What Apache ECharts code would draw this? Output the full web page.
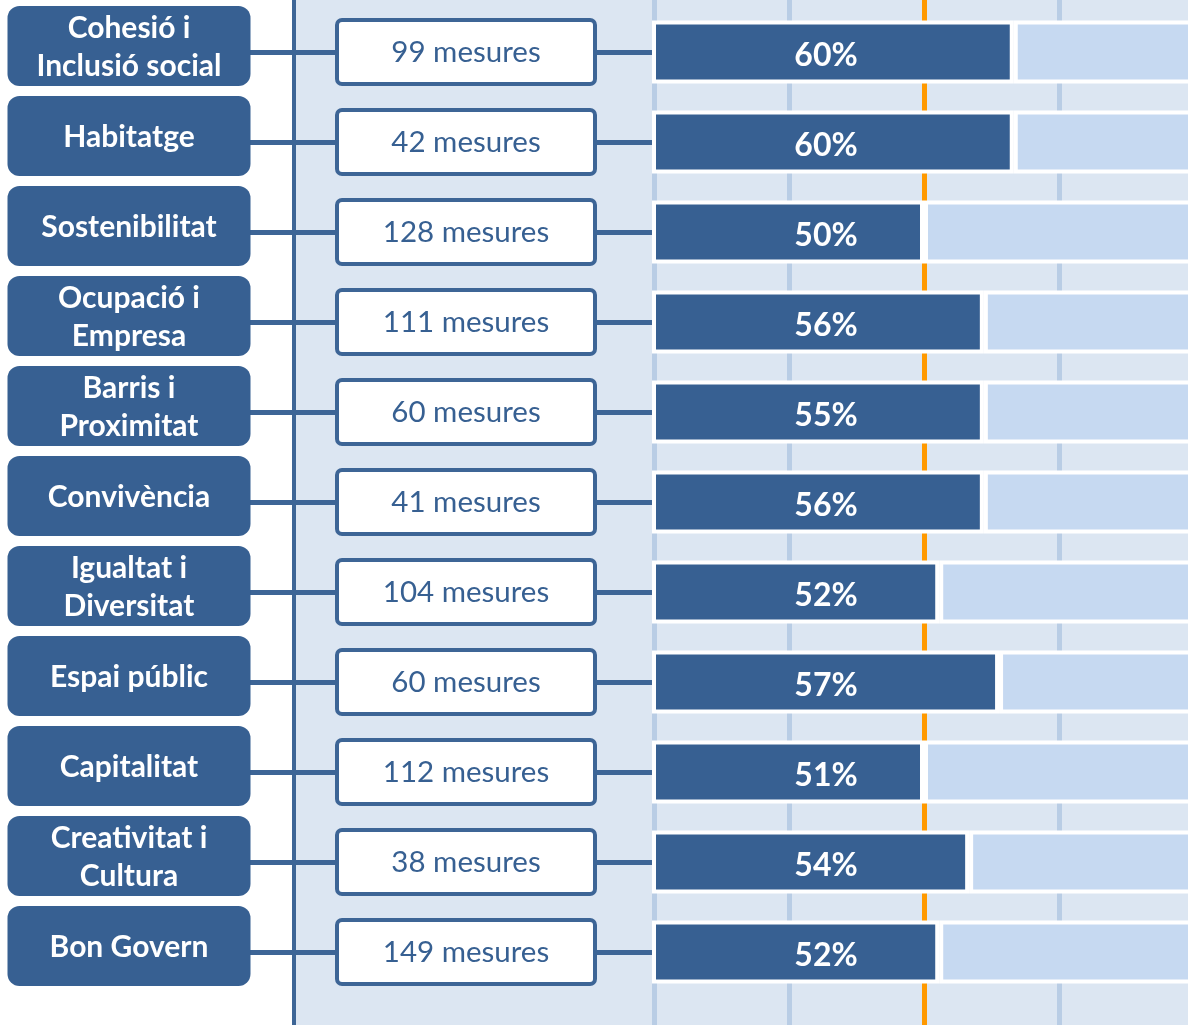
<!DOCTYPE html>
<html>
<head>
<meta charset="utf-8">
<script src="https://cdn.jsdelivr.net/npm/echarts@6/dist/echarts.min.js"></script>
<style>
html,body{margin:0;padding:0;background:#fff;}
#chart{width:1188px;height:1025px;}
</style>
</head>
<body>
<div id="chart"></div>
<script>
// ---- data ----
const categories = ['Cohesió i\nInclusió social', 'Habitatge', 'Sostenibilitat', 'Ocupació i\nEmpresa', 'Barris i\nProximitat', 'Convivència', 'Igualtat i\nDiversitat', 'Espai públic', 'Capitalitat', 'Creativitat i\nCultura', 'Bon Govern'];
const mesures = [99, 42, 128, 111, 60, 41, 104, 60, 112, 38, 149];
const pctLabels = ['60%', '60%', '50%', '56%', '55%', '56%', '52%', '57%', '51%', '54%', '52%'];
const barShare = [66.5, 66.5, 50.0, 61.0, 61.0, 61.0, 52.8, 63.8, 50.0, 58.3, 52.8];
const scaleTicks = [0, 25, 50, 75, 100];

const DARK = '#376092';
const LINE = '#3D6596';
const FONT = 'Lato';

const chart = echarts.init(document.getElementById('chart'), null, {renderer: 'canvas'});

const option = {
  backgroundColor: '#ffffff',
  animation: false,
  grid: [
    {left: 652, width: 544, top: 7, height: 990, outerBoundsMode: 'none', containLabel: false},   // bars + mesures boxes
    {left: 652, width: 544, top: 1, height: 990, outerBoundsMode: 'none', containLabel: false},   // category boxes
    {left: 294, right: 0, top: 0, bottom: 0, show: true, backgroundColor: '#DCE6F2', borderWidth: 0, z: -2, outerBoundsMode: 'none'}, // background
    {left: 654, width: 540, top: 0, bottom: 0, outerBoundsMode: 'none', containLabel: false}      // vertical guide lines
  ],
  xAxis: [
    {gridIndex: 0, type: 'value', min: scaleTicks[0], max: scaleTicks[scaleTicks.length - 1], show: false},
    {gridIndex: 1, type: 'value', min: scaleTicks[0], max: scaleTicks[scaleTicks.length - 1], show: false},
    {gridIndex: 2, type: 'value', min: 0, max: 1, show: false},
    {gridIndex: 3, type: 'value', min: scaleTicks[0], max: scaleTicks[scaleTicks.length - 1], interval: 25, z: -1,
      axisLine: {show: false}, axisTick: {show: false}, axisLabel: {show: false},
      splitLine: {show: true, lineStyle: {width: 5, color: ['#B9CDE5', '#B9CDE5', '#FF9900', '#B9CDE5', '#B9CDE5']}}}
  ],
  yAxis: [
    {gridIndex: 0, type: 'category', inverse: true, data: categories,
      axisLine: {show: false},
      axisTick: {show: true, alignWithLabel: true, length: 402, lineStyle: {color: LINE, width: 5}},
      axisLabel: {
        interval: 0, margin: 186, align: 'center', verticalAlign: 'middle',
        formatter: (v, i) => mesures[i] + ' mesures',
        color: DARK, fontFamily: FONT, fontSize: 29.5,
        backgroundColor: '#ffffff', borderColor: LINE, borderWidth: 4, borderRadius: 3,
        width: 254, lineHeight: 59, padding: [1, 0, 0, 0]
      }},
    {gridIndex: 1, type: 'category', inverse: true, data: categories,
      axisLine: {show: false}, axisTick: {show: false},
      axisLabel: {
        interval: 0, margin: 523, align: 'center', verticalAlign: 'middle',
        formatter: (v) => v.indexOf('\n') >= 0
          ? v.split('\n').map(s => '{two|' + s + '}').join('\n')
          : '{one|' + v + '}',
        backgroundColor: DARK, borderRadius: 12, width: 243, padding: [3, 0, 0, 0],
        rich: {
          one: {color: '#fff', fontFamily: FONT, fontWeight: 'bold', fontSize: 30, lineHeight: 77, align: 'center'},
          two: {color: '#fff', fontFamily: FONT, fontWeight: 'bold', fontSize: 30, lineHeight: 38.5, align: 'center'}
        }
      }},
    {gridIndex: 2, type: 'value', min: 0, max: 1, z: 1,
      axisLine: {show: true, onZero: false, lineStyle: {color: LINE, width: 4}},
      axisTick: {show: false}, axisLabel: {show: false}, splitLine: {show: false}},
    {gridIndex: 3, type: 'category', data: categories, show: false}
  ],
  series: [
    {
      name: 'done', type: 'bar', stack: 'total', xAxisIndex: 0, yAxisIndex: 0,
      data: barShare, barWidth: 63, z: 3,
      itemStyle: {color: DARK, borderColor: '#ffffff', borderWidth: 4},
      label: {
        show: true, position: [174, '50%'], align: 'center', verticalAlign: 'middle', offset: [0, 4],
        formatter: (p) => pctLabels[p.dataIndex],
        color: '#ffffff', fontFamily: FONT, fontWeight: 'bold', fontSize: 32
      },
      silent: true
    },
    {
      name: 'rest', type: 'bar', stack: 'total', xAxisIndex: 0, yAxisIndex: 0,
      data: barShare.map(v => scaleTicks[scaleTicks.length - 1] - v), barWidth: 63, z: 3,
      itemStyle: {color: '#C6D9F1', borderColor: '#ffffff', borderWidth: 4},
      silent: true
    }
  ]
};
chart.setOption(option);
</script>
</body>
</html>
